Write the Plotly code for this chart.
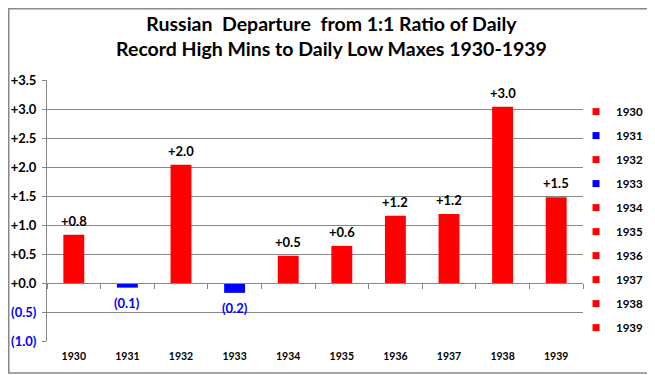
import plotly.graph_objects as go

years = ["1930", "1931", "1932", "1933", "1934", "1935", "1936", "1937", "1938", "1939"]
values = [0.83, -0.08, 2.04, -0.17, 0.47, 0.64, 1.16, 1.19, 3.04, 1.48]
y_tick_vals = [-1.0, -0.5, 0.0, 0.5, 1.0, 1.5, 2.0, 2.5, 3.0, 3.5]

RED = "#FF0000"
BLUE = "#0000FF"
FONT = "Lato"


def fmt(v):
    return f"+{v:.1f}" if v >= 0 else f"({abs(v):.1f})"


def tick_text(v):
    return fmt(v) if v >= 0 else f'<span style="color:{BLUE}">{fmt(v)}</span>'


fig = go.Figure()
for i, (yr, v) in enumerate(zip(years, values)):
    pos = v >= 0
    col = RED if pos else BLUE
    fig.add_trace(go.Bar(
        x=[yr], y=[v], name=yr, width=0.39,
        marker=dict(color=col, line=dict(width=0)),
        legendgroup=yr, showlegend=False,
    ))
    # legend entry (small square key, as in the reference legend)
    fig.add_trace(go.Scatter(
        x=[None], y=[None], name=yr, mode="markers",
        marker=dict(symbol="square", size=7, color=col),
        legendgroup=yr, showlegend=True, hoverinfo="skip",
    ))
    # data label (x given as the category's index on the category axis)
    fig.add_annotation(
        x=i, y=v, xref="x", yref="y", text=f"<b>{fmt(v)}</b>", showarrow=False,
        yanchor="bottom" if pos else "top", yshift=4 if pos else -5,
        font=dict(family=FONT, size=13, color="#000000" if pos else BLUE),
    )

y_lo, y_hi = -1.0, 3.5
zero_frac = (0 - y_lo) / (y_hi - y_lo)

W, H = 647, 367
L, R, T, B = 39, 72, 72, 34
PW, PH = W - L - R, H - T - B

fig.update_layout(
    width=W, height=H,
    margin=dict(l=L, r=R, t=T, b=B, autoexpand=False),
    paper_bgcolor="white", plot_bgcolor="white",
    barmode="overlay",
    font=dict(family=FONT, color="#000000"),
    title=dict(
        text="<b>Russian\u00a0 Departure\u00a0 from 1:1 Ratio of Daily<br>Record High Mins to Daily Low Maxes 1930-1939</b>",
        x=0.5, xref="container", xanchor="center", y=0.9376, yanchor="top",
        font=dict(family=FONT, size=19.5, color="#000000"),
    ),
    xaxis=dict(
        type="category", categoryorder="array", categoryarray=years,
        range=[-0.5, len(years) - 0.5],
        anchor="free", position=zero_frac,
        showline=True, linecolor="#868686", linewidth=1,
        ticks="outside", tickson="boundaries", ticklen=5, tickcolor="#868686",
        ticklabelstandoff=63,
        tickfont=dict(family=FONT, size=10.5, color="#000000", weight="bold"),
        showgrid=False, zeroline=False,
    ),
    yaxis=dict(
        range=[y_lo, y_hi], tickvals=y_tick_vals,
        ticktext=[tick_text(v) for v in y_tick_vals],
        showline=True, linecolor="#868686", linewidth=1,
        ticks="outside", ticklen=4, tickcolor="#868686",
        showgrid=True, gridcolor="#868686", gridwidth=1,
        zeroline=False, ticklabelstandoff=3,
        tickfont=dict(family=FONT, size=13, color="#000000", weight="bold"),
    ),
    legend=dict(
        x=0.987, xanchor="left", y=0.9345, yanchor="top",
        font=dict(family=FONT, size=11.5, color="#000000", weight="bold"),
        tracegroupgap=5, itemwidth=30, bgcolor="rgba(0,0,0,0)",
    ),
    showlegend=True,
)

# outer chart frame
fx0, fx1, fy0, fy1 = 0.75, 644, 0.75, 365
fig.add_shape(type="rect", xref="paper", yref="paper",
              x0=(fx0 - L) / PW, x1=(fx1 - L) / PW,
              y0=(T + PH - fy1) / PH, y1=(T + PH - fy0) / PH,
              line=dict(color="#888888", width=1.5), layer="above")

fig.write_html("out.html")
